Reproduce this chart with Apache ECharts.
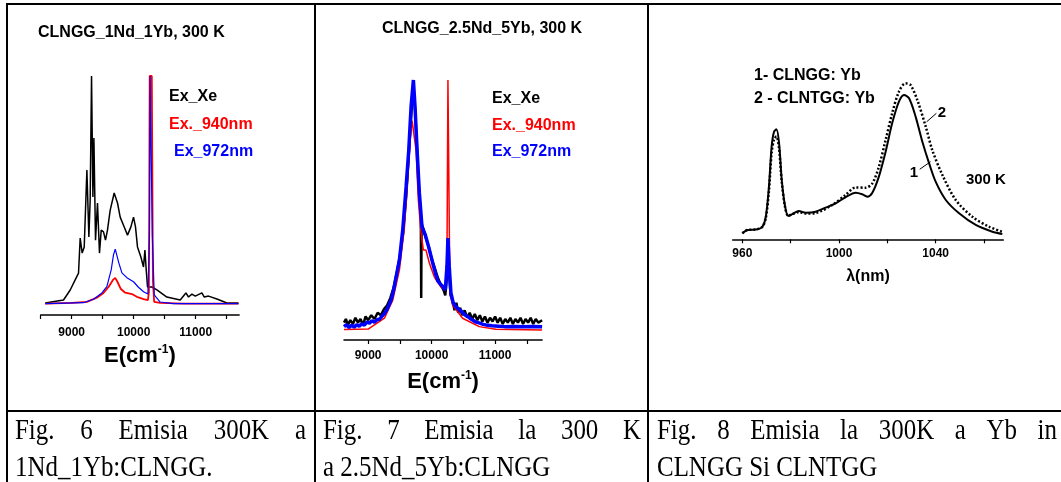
<!DOCTYPE html>
<html>
<head>
<meta charset="utf-8">
<script src="https://cdn.jsdelivr.net/npm/echarts@6/dist/echarts.min.js"></script>
<style>
  html, body { margin: 0; padding: 0; background: #fff; }
  #chart { width: 1061px; height: 482px; }
</style>
</head>
<body>
<div id="chart"></div>
<script>
// Fig. 6 - 1Nd_1Yb:CLNGG, emisie 300 K
const xeE1 = [8573, 8868, 8976, 9056, 9110, 9137, 9169, 9202, 9245, 9277, 9298, 9320, 9342, 9358, 9384, 9416, 9448, 9476, 9513, 9545, 9577, 9621, 9685, 9739, 9782, 9847, 9900, 9955, 9997, 10029, 10061, 10116, 10158, 10181, 10202, 10223, 10293, 10374, 10535, 10750, 10842, 10884, 10939, 10993, 11100, 11138, 11207, 11342, 11503, 11690];
const xeI1 = [0.003, 0.016, 0.060, 0.104, 0.134, 0.288, 0.222, 0.249, 0.587, 0.293, 0.455, 1.0, 0.468, 0.728, 0.279, 0.442, 0.222, 0.323, 0.315, 0.279, 0.323, 0.411, 0.486, 0.442, 0.380, 0.337, 0.301, 0.337, 0.380, 0.337, 0.249, 0.205, 0.161, 0.235, 0.148, 0.073, 0.073, 0.060, 0.029, 0.016, 0.047, 0.029, 0.042, 0.033, 0.047, 0.029, 0.033, 0.020, 0.003, 0.003];
const ex940E1 = [8573, 9000, 9245, 9406, 9513, 9594, 9665, 9702, 9739, 9793, 9863, 9971, 10051, 10159, 10229, 10245, 10258, 10292, 10310, 10330, 10427, 10804, 11690];
const ex940I1 = [0, 0.003, 0.008, 0.026, 0.047, 0.073, 0.104, 0.113, 0.095, 0.064, 0.048, 0.042, 0.030, 0.020, 0.015, 0.05, 1.0, 1.0, 0.1, 0.008, 0.003, 0, 0];
const ex972E1 = [8573, 9190, 9352, 9487, 9567, 9637, 9674, 9702, 9729, 9761, 9810, 9890, 9997, 10077, 10159, 10229, 10255, 10265, 10285, 10300, 10331, 10427, 10642, 11690];
const ex972I1 = [0, 0.004, 0.019, 0.047, 0.075, 0.148, 0.214, 0.239, 0.237, 0.178, 0.135, 0.114, 0.096, 0.072, 0.052, 0.042, 0.3, 1.0, 1.0, 0.3, 0.038, 0.007, 0, 0];

// Fig. 7 - 2.5Nd_5Yb:CLNGG
const xeE2 = [8620, 8650, 8680, 8720, 8760, 8800, 8840, 8880, 8920, 8960, 9000, 9050, 9100, 9150, 9200, 9250, 9300, 9350, 9400, 9450, 9500, 9550, 9600, 9650, 9690, 9713, 9740, 9770, 9800, 9830, 9836, 9842, 9870, 9900, 9950, 10000, 10050, 10100, 10150, 10190, 10215, 10240, 10260, 10280, 10300, 10330, 10360, 10390, 10420, 10450, 10480, 10520, 10560, 10600, 10640, 10680, 10720, 10760, 10800, 10840, 10880, 10920, 10960, 11000, 11040, 11080, 11120, 11160, 11200, 11240, 11280, 11320, 11360, 11400, 11440, 11480, 11520, 11560, 11600, 11640, 11680, 11740];
const xeI2 = [0.02, 0.035, 0.01, 0.03, 0.015, 0.04, 0.02, 0.035, 0.01, 0.045, 0.03, 0.05, 0.035, 0.06, 0.05, 0.075, 0.09, 0.12, 0.16, 0.22, 0.29, 0.38, 0.53, 0.74, 0.9, 0.96, 0.88, 0.72, 0.56, 0.44, 0.12, 0.42, 0.40, 0.37, 0.33, 0.28, 0.24, 0.2, 0.17, 0.15, 0.13, 0.2, 0.3, 0.2, 0.13, 0.11, 0.07, 0.1, 0.06, 0.08, 0.05, 0.07, 0.04, 0.06, 0.035, 0.055, 0.03, 0.05, 0.025, 0.045, 0.02, 0.04, 0.025, 0.045, 0.02, 0.04, 0.015, 0.035, 0.02, 0.04, 0.015, 0.035, 0.02, 0.04, 0.015, 0.035, 0.02, 0.04, 0.015, 0.035, 0.02, 0.03];
const ex940E2 = [8620, 9000, 9257, 9388, 9493, 9572, 9624, 9661, 9692, 9723, 9755, 9791, 9833, 9870, 9911, 9964, 10043, 10147, 10215, 10241, 10257, 10273, 10288, 10330, 10488, 10750, 11011, 11740];
const ex940I2 = [-0.008, -0.006, 0.038, 0.111, 0.233, 0.406, 0.608, 0.757, 0.836, 0.84, 0.717, 0.515, 0.382, 0.313, 0.313, 0.261, 0.204, 0.164, 0.152, 0.245, 1.0, 1.0, 0.14, 0.091, 0.038, 0.004, -0.007, -0.01];
const ex972E2 = [8620, 8660, 8700, 8740, 8780, 8820, 8860, 8900, 8940, 8980, 9020, 9060, 9100, 9140, 9180, 9220, 9257, 9300, 9362, 9400, 9440, 9493, 9545, 9598, 9640, 9676, 9713, 9739, 9771, 9807, 9849, 9875, 9901, 9954, 10017, 10060, 10095, 10140, 10184, 10215, 10241, 10257, 10278, 10304, 10340, 10383, 10420, 10460, 10488, 10530, 10570, 10610, 10645, 10700, 10760, 10810, 10854, 10950, 11050, 11150, 11300, 11450, 11600, 11740];
const ex972I2 = [0.004, 0.012, 0.0, 0.01, 0.002, 0.012, 0.006, 0.016, 0.01, 0.022, 0.018, 0.028, 0.022, 0.032, 0.034, 0.046, 0.057, 0.075, 0.111, 0.15, 0.204, 0.273, 0.394, 0.568, 0.717, 0.891, 1.0, 0.891, 0.717, 0.544, 0.406, 0.39, 0.374, 0.325, 0.261, 0.22, 0.19, 0.175, 0.164, 0.152, 0.245, 0.362, 0.245, 0.14, 0.1, 0.084, 0.075, 0.068, 0.06, 0.05, 0.045, 0.036, 0.031, 0.022, 0.018, 0.013, 0.011, 0.008, 0.006, 0.004, 0.005, 0.004, 0.005, 0.004];

// Fig. 8 - Yb in CLNGG (1) si CLNTGG (2)
const ybWl1 = [960.0, 962.1, 966.2, 968.3, 969.7, 971.0, 972.1, 973.1, 974.1, 975.2, 976.3, 977.7, 979.0, 980.7, 983.4, 986.2, 990.3, 994.4, 998.6, 1002.7, 1006.9, 1009.6, 1011.7, 1013.8, 1016.5, 1019.3, 1022.0, 1024.8, 1026.9, 1029.0, 1031.7, 1034.5, 1037.3, 1040.0, 1044.2, 1049.7, 1056.6, 1063.5, 1067.6];
const ybI1 = [0.0, 0.021, 0.026, 0.043, 0.109, 0.308, 0.572, 0.671, 0.687, 0.595, 0.352, 0.176, 0.114, 0.127, 0.147, 0.136, 0.142, 0.169, 0.198, 0.238, 0.268, 0.258, 0.242, 0.268, 0.374, 0.539, 0.727, 0.870, 0.914, 0.892, 0.771, 0.605, 0.462, 0.341, 0.220, 0.132, 0.055, 0.010, -0.005];
const ybWl2 = [960.0, 962.0, 966.0, 968.3, 969.7, 971.0, 972.1, 973.1, 974.1, 975.2, 976.3, 977.7, 979.0, 980.7, 983.4, 986.2, 990.3, 997.2, 1002.7, 1006.9, 1011.0, 1013.8, 1016.5, 1019.3, 1022.0, 1024.8, 1027.5, 1029.6, 1032.4, 1035.9, 1038.6, 1042.8, 1048.3, 1055.2, 1062.1, 1067.6];
const ybI2 = [0.0, 0.021, 0.026, 0.043, 0.1, 0.28, 0.53, 0.62, 0.64, 0.56, 0.34, 0.17, 0.115, 0.127, 0.14, 0.13, 0.134, 0.187, 0.253, 0.303, 0.301, 0.330, 0.440, 0.617, 0.793, 0.936, 0.991, 0.980, 0.881, 0.705, 0.550, 0.385, 0.220, 0.109, 0.043, 0.010];

// axis ticks
const eTicks1 = [8500, 9000, 9500, 10000, 10500, 11000, 11500];
const eTicks2 = [9000, 9500, 10000, 10500, 11000, 11500];
const eLabels = [9000, 10000, 11000];
const wlTicks = [960, 980, 1000, 1020, 1040, 1060];
const wlLabels = [960, 1000, 1040];

const SANS = "'Liberation Sans', Arial, sans-serif";
const SERIF = "'Liberation Serif', 'Times New Roman', serif";

function zip(xs, ys) {
  return xs.map((x, i) => [x, ys[i]]);
}

function xAxisOf(gridIndex, min, max, ticks, labels, labelMargin, name, nameGap, nameRich) {
  return {
    type: 'value', gridIndex, min, max,
    axisLine: { show: true, onZero: false, lineStyle: { color: '#000', width: 1.5 } },
    axisTick: { show: true, customValues: ticks, length: 4, lineStyle: { color: '#000', width: 1.2 } },
    axisLabel: { customValues: labels, color: '#000', fontWeight: 'bold', fontSize: 12, fontFamily: SANS,
      margin: labelMargin, formatter: v => String(v) },
    splitLine: { show: false },
    name, nameLocation: 'middle', nameGap,
    nameTextStyle: { rich: nameRich }
  };
}

const eRich = {
  a: { fontSize: 22, fontWeight: 'bold', fontFamily: SANS, color: '#000', lineHeight: 24 },
  s: { fontSize: 12, fontWeight: 'bold', fontFamily: SANS, color: '#000', verticalAlign: 'top', lineHeight: 24 }
};
const wlRich = {
  a: { fontSize: 16, fontWeight: 'bold', fontFamily: SANS, color: '#000', lineHeight: 18 }
};

function line(xs, ys, color, width, grid, name, extra) {
  return Object.assign({
    type: 'line', name, xAxisIndex: grid, yAxisIndex: grid,
    data: zip(xs, ys), showSymbol: false, symbol: 'none', silent: true,
    lineStyle: { color, width }, itemStyle: { color }
  }, extra || {});
}

// caption cells: narrow Times-like text, first line justified as in the Word table
const capFont = "29px " + SERIF;
const capScale = 0.86;
const row1 = 431, row2 = 468;
const measureCtx = document.createElement('canvas').getContext('2d');
function capText(text, x, cy) {
  return { type: 'text', x, y: cy, scaleX: capScale, silent: true,
    style: { text, font: capFont, fill: '#000', verticalAlign: 'middle', align: 'left' } };
}
function justified(text, x0, x1, cy) {
  measureCtx.font = capFont;
  const words = text.split(' ');
  const widths = words.map(w => measureCtx.measureText(w).width * capScale);
  const gap = (x1 - x0 - widths.reduce((a, b) => a + b, 0)) / (words.length - 1);
  let x = x0;
  return words.map((w, i) => {
    const el = capText(w, x, cy);
    x += widths[i] + gap;
    return el;
  });
}
function rule(x1, y1, x2, y2) {
  return { type: 'line', silent: true, shape: { x1, y1, x2, y2 }, style: { stroke: '#000', lineWidth: 2 } };
}

const titleStyle = { fontSize: 16, fontWeight: 'bold', fontFamily: SANS, color: '#000', lineHeight: 18 };
const legendText = { fontSize: 16, fontWeight: 'bold', fontFamily: SANS, lineHeight: 18 };

const myChart = echarts.init(document.getElementById('chart'));
const option = {
  animation: false,
  backgroundColor: '#fff',
  title: [
    { text: 'CLNGG_1Nd_1Yb, 300 K', left: 38, top: 24, padding: 0, textStyle: titleStyle },
    { text: 'CLNGG_2.5Nd_5Yb, 300 K', left: 382, top: 20, padding: 0, textStyle: titleStyle }
  ],
  legend: [
    { left: 164, top: 88, orient: 'vertical', icon: 'none', itemWidth: 0, itemHeight: 18, itemGap: 9.5,
      selectedMode: false, padding: 0, textStyle: legendText,
      data: [
        { name: 'Ex_Xe', textStyle: { color: '#000' } },
        { name: 'Ex._940nm', textStyle: { color: '#ff0000' } },
        { name: 'Ex_972nm', textStyle: { color: '#0000ff', padding: [0, 0, 0, 5] } }
      ] },
    { left: 487, top: 90, orient: 'vertical', icon: 'none', itemWidth: 0, itemHeight: 18, itemGap: 8.5,
      selectedMode: false, padding: 0, textStyle: legendText,
      data: [
        { name: 'Ex_Xe', textStyle: { color: '#000' } },
        { name: 'Ex._940nm', textStyle: { color: '#ff0000' } },
        { name: 'Ex_972nm', textStyle: { color: '#0000ff' } }
      ] },
    { left: 749, top: 67, orient: 'vertical', icon: 'none', itemWidth: 0, itemHeight: 18, itemGap: 4.3,
      selectedMode: false, padding: 0, textStyle: Object.assign({ color: '#000' }, legendText),
      data: ['1- CLNGG: Yb', '2 - CLNTGG: Yb'] }
  ],
  grid: [
    { left: 40.7, top: 76, width: 198.4, height: 239, outerBoundsMode: 'none' },
    { left: 344, top: 80, width: 198.1, height: 260, outerBoundsMode: 'none' },
    { left: 732.7, top: 82, width: 270.6, height: 157.3, outerBoundsMode: 'none' }
  ],
  xAxis: [
    xAxisOf(0, 8500, 11700, eTicks1, eLabels, 12, '{a|E(cm}{s|-1}{a|)}', 29, eRich),
    xAxisOf(1, 8620, 11740, eTicks2, eLabels, 10, '{a|E(cm}{s|-1}{a|)}', 30, eRich),
    xAxisOf(2, 956, 1068, wlTicks, wlLabels, 8.5, '{a|λ(nm)}', 28, wlRich)
  ],
  yAxis: [
    { type: 'value', gridIndex: 0, min: -0.05, max: 1.0, show: false },
    { type: 'value', gridIndex: 1, min: -0.05, max: 1.0, show: false },
    { type: 'value', gridIndex: 2, min: -0.04, max: 1.0, show: false }
  ],
  series: [
    line(xeE1, xeI1, '#000', 1.5, 0, 'Ex_Xe'),
    line(ex940E1, ex940I1, '#ff0000', 1.8, 0, 'Ex._940nm'),
    line(ex972E1, ex972I1, '#0000ff', 1.2, 0, 'Ex_972nm'),
    line(xeE2, xeI2, '#000', 2.5, 1, 'Ex_Xe'),
    line(ex940E2, ex940I2, '#ff0000', 1.5, 1, 'Ex._940nm'),
    line(ex972E2, ex972I2, '#0000ff', 3.5, 1, 'Ex_972nm'),
    line(ybWl2, ybI2, '#000', 2.5, 2, '2 - CLNTGG: Yb', {
      smooth: 0.3,
      lineStyle: { color: '#000', width: 2.5, type: [2, 2] },
      markLine: {
        silent: true, symbol: 'none', label: { show: false },
        lineStyle: { color: '#000', width: 1, type: 'solid' },
        data: [
          [{ coord: [1036.3, 0.737] }, { coord: [1040.3, 0.793] }],
          [{ coord: [1033.4, 0.423] }, { coord: [1037.9, 0.473] }]
        ]
      },
      markPoint: {
        silent: true, symbol: 'circle', symbolSize: 0,
        label: { show: true, position: 'inside', color: '#000', fontWeight: 'bold', fontSize: 15, fontFamily: SANS },
        data: [
          { coord: [1042.6, 0.797], label: { formatter: '2' } },
          { coord: [1031.0, 0.396], label: { formatter: '1' } },
          { coord: [1060.8, 0.352], label: { formatter: '300 K' } }
        ]
      }
    }),
    line(ybWl1, ybI1, '#000', 2, 2, '1- CLNGG: Yb', { smooth: 0.3 })
  ],
  graphic: [
    rule(6, 4, 1061, 4),
    rule(7, 3, 7, 482),
    rule(315, 3, 315, 482),
    rule(648, 3, 648, 482),
    rule(6, 411, 1061, 411),
    ...justified('Fig. 6 Emisia 300K a', 15, 306, row1),
    capText('1Nd_1Yb:CLNGG.', 15, row2),
    ...justified('Fig. 7 Emisia la 300 K', 323, 641, row1),
    capText('a 2.5Nd_5Yb:CLNGG', 323, row2),
    ...justified('Fig. 8 Emisia la 300K a Yb in', 657, 1057, row1),
    capText('CLNGG Si CLNTGG', 657, row2)
  ]
};
myChart.setOption(option, true);
</script>
</body>
</html>
